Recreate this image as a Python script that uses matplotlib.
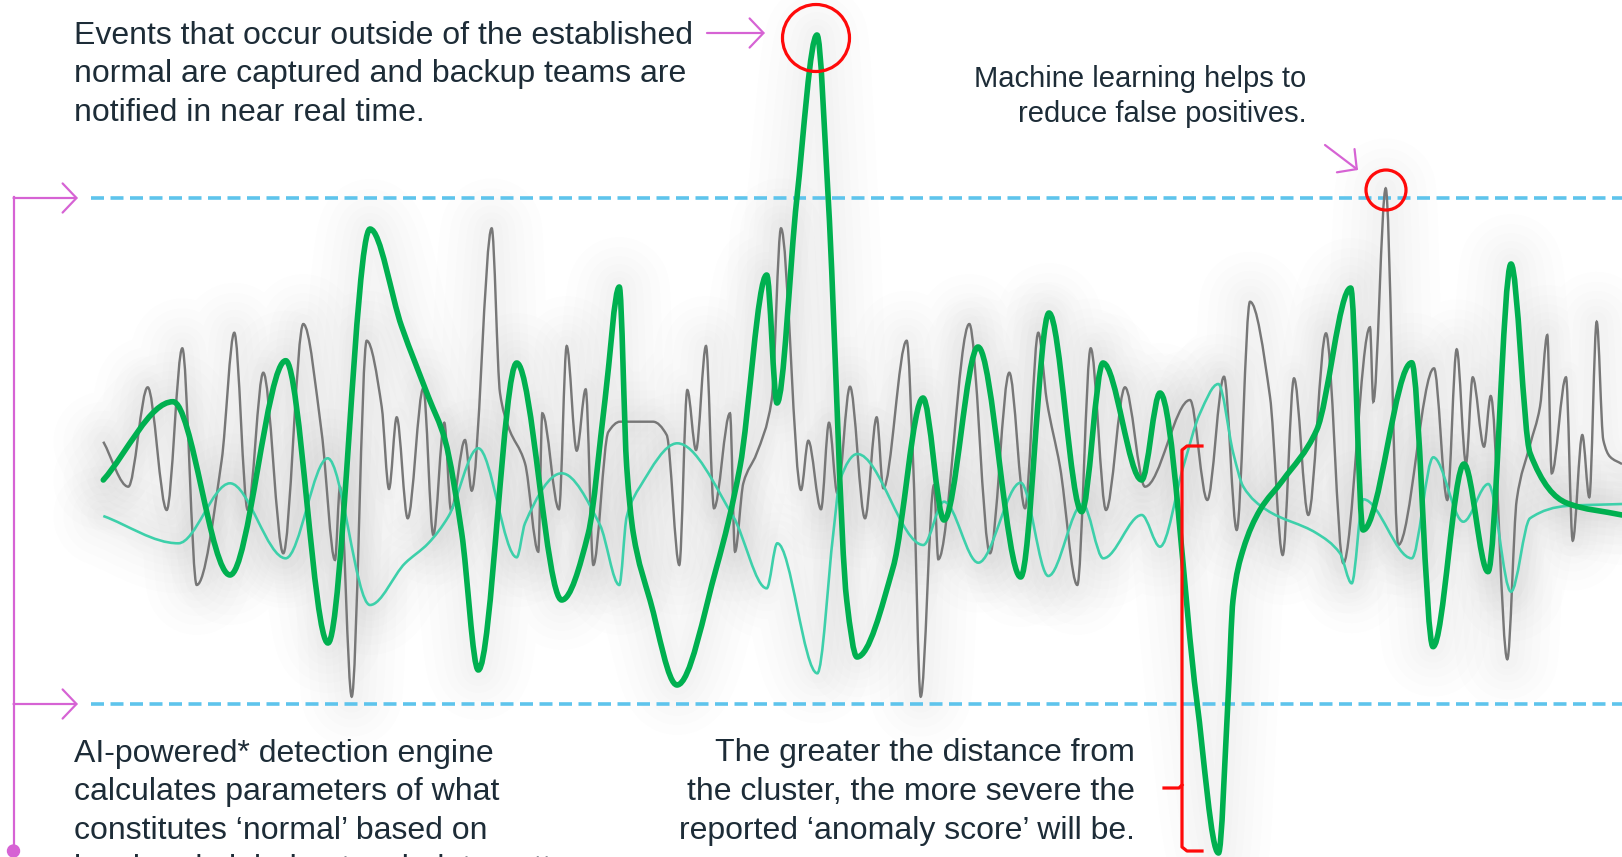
import numpy as np
import matplotlib
matplotlib.use('Agg')
import matplotlib.pyplot as plt
from matplotlib.path import Path
from matplotlib.patches import PathPatch, Circle, Ellipse

plt.rcParams['font.family'] = ['Liberation Sans', 'DejaVu Sans']

# canvas units are pixels of the 1622x857 picture, y grows downwards
W, H = 1622, 857

# extrema (and a few shoulders)
gray_x = [103.3, 128.3, 147.7, 166.7, 182.3, 196.7, 221.7, 234.3, 247.7, 263.3, 283.3, 303.3, 321.7, 335,
          340, 351.7, 366.7, 381.7, 389, 396.7, 407.7, 423.3, 433.3, 444.3, 451, 465, 471.7, 491.7, 500,
          508.3, 525, 538.3, 542.3, 559, 566.7, 576.7, 585.7, 593.3, 608.3, 620, 653, 666.7, 679.3, 687.3,
          696, 706, 714, 730, 735, 743.3, 756.7, 771.7, 781, 801, 808.3, 821, 829, 837.3, 850, 865, 876.7,
          883.3, 906.7, 913.3, 920.7, 934, 938.3, 969.3, 990, 1009.3, 1025, 1038.3, 1046.7, 1060, 1077.3,
          1090.7, 1106, 1125, 1145, 1190, 1207.3, 1224, 1236.7, 1250, 1270, 1282.7, 1294, 1308.3, 1326,
          1343.3, 1370, 1373.3, 1385.7, 1398.3, 1434, 1447.3, 1456.7, 1466, 1472.7, 1484, 1490.7, 1507.3,
          1516.7, 1530, 1540, 1547.3, 1551.7, 1566, 1572.7, 1582.3, 1589.3, 1596.7, 1603.3, 1610, 1622]
gray_y = [441.7, 486.7, 387.3, 510, 348.3, 585, 460, 332.7, 510, 372.7, 553.3, 324, 433, 560,
          487, 696.7, 340.7, 406.7, 489, 417.3, 518.3, 388.3, 535, 422.7, 510, 440, 490.7, 228.3, 393,
          426.7, 463.3, 551.7, 413.3, 509.3, 346, 450.7, 389.3, 565, 432, 421.7, 421.7, 435, 565, 390,
          450, 346, 508.3, 413.3, 551.7, 483.3, 453.3, 400, 228.3, 490, 440.7, 509.3, 422.7, 493.3, 386.7,
          518.3, 417.3, 488.3, 340.7, 466.7, 696.7, 485, 559.3, 324, 553.3, 372.7, 508.3, 332.7, 400,
          466.7, 585, 348.3, 510, 387.3, 486.7, 400, 500, 376.7, 530, 301.7, 396.7, 555, 378.3, 515,
          333.3, 563.3, 327.3, 401.7, 188.3, 545, 368.3, 500, 349.3, 463.3, 377.3, 446.7, 396, 659.3,
          500, 445, 406.7, 335, 473.3, 377.3, 540.7, 435, 497.3, 321.7, 440, 456.7, 464]

green_x = [103.3, 173, 230, 285.7, 328, 370, 401.7, 428.3, 445, 461.7, 478.3, 516.7, 561.7, 588.3, 605,
           619.3, 626.7, 633.3, 650, 677, 716.7, 740, 766.7, 777, 796.7, 817, 828.3, 846.7, 857, 893.3,
           923, 944, 978, 1020.7, 1049, 1081.7, 1103, 1141.7, 1160, 1196.7, 1218.5, 1228, 1233, 1243,
           1260, 1283, 1316.7, 1350.7, 1363, 1411.7, 1433, 1464, 1488, 1511, 1530, 1566.7, 1622]
green_y = [480, 401.7, 575, 360.7, 643, 229, 326.7, 396.7, 440, 533, 670, 363, 600, 533.3, 400,
           287, 466.7, 533.3, 600, 685, 566.7, 466.7, 275, 403, 200, 35, 200, 600, 657, 566.7,
           398, 520, 347, 577, 313, 511.7, 363, 480, 393, 700, 853, 700, 600, 550,
           510, 480, 430, 288, 530, 362.7, 646.7, 464, 571.7, 264, 453, 503, 515]

teal_x = [103.3, 178.3, 230, 285.7, 327.7, 370, 405, 428.3, 448.3, 478.3, 516.7, 525, 561.7, 600, 619.3,
          626.7, 640, 677.3, 733.3, 766.7, 777.3, 817.3, 833.3, 840, 857.3, 923.3, 944, 978.3, 1020.7,
          1048.3, 1082.7, 1103.3, 1141.7, 1160, 1183.3, 1200, 1218.3, 1233.3, 1243.3, 1266.7, 1316.7,
          1340, 1351.7, 1363.3, 1411.7, 1433.3, 1463.3, 1488.3, 1511, 1530, 1566.7, 1622]
teal_y = [516, 543.3, 483.3, 558.3, 458.3, 605, 563.3, 543.3, 516.7, 448.3, 557.3, 523.3, 473.3, 525, 585,
          516.7, 486.7, 443.3, 516.7, 588.3, 543.3, 673.3, 533.3, 480, 454, 545, 501.7, 562.7, 482.7,
          576, 504, 558.3, 515, 546.7, 466.7, 413.3, 384, 453.3, 486.7, 510, 533.3,
          553.3, 583.3, 499.3, 558.3, 457.3, 521.7, 484, 591.7, 518.3, 506, 504]

upper_limit = 198
lower_limit = 704

note_top = ["Events that occur outside of the established",
            "normal are captured and backup teams are",
            "notified in near real time."]
note_ml = ["Machine learning helps to", "reduce false positives."]
note_engine = ["AI-powered* detection engine",
               "calculates parameters of what",
               "constitutes \u2018normal\u2019 based on",
               "local and global network data patterns."]
note_score = ["The greater the distance from",
              "the cluster, the more severe the",
              "reported \u2018anomaly score\u2019 will be."]

TXT = '#1d2c37'
PINK = '#d663d4'
RED = '#ff0a0a'
BLUE = '#5ec4ec'
PX = 72 / 100  # points per pixel


def wave_path(xs, ys):
    # monotone cubic through the extrema, drawn as bezier segments
    x = np.asarray(xs, float)
    y = np.asarray(ys, float)
    h = np.diff(x)
    d = np.diff(y) / h
    m = np.zeros_like(y)
    m[0], m[-1] = d[0], d[-1]
    for k in range(1, len(x) - 1):
        if d[k - 1] * d[k] > 0:
            w1 = 2 * h[k] + h[k - 1]
            w2 = h[k] + 2 * h[k - 1]
            m[k] = (w1 + w2) / (w1 / d[k - 1] + w2 / d[k])
    verts = [(x[0], y[0])]
    codes = [Path.MOVETO]
    for k in range(len(h)):
        verts += [(x[k] + h[k] / 3, y[k] + m[k] * h[k] / 3),
                  (x[k + 1] - h[k] / 3, y[k + 1] - m[k + 1] * h[k] / 3),
                  (x[k + 1], y[k + 1])]
        codes += [Path.CURVE4] * 3
    return Path(verts, codes)


fig = plt.figure(figsize=(W / 100, H / 100), dpi=100)
ax = fig.add_axes([0, 0, 1, 1])
ax.set_xlim(0, W)
ax.set_ylim(H, 0)
ax.axis('off')

paths = {'gray': wave_path(gray_x, gray_y),
         'green': wave_path(green_x, green_y),
         'teal': wave_path(teal_x, teal_y)}

# soft grey glow behind the signals
for p in paths.values():
    for w in (100, 80, 62, 46, 32, 20):
        ax.add_patch(PathPatch(p, fill=False, lw=w * PX, ec='black', alpha=0.0065,
                               capstyle='round', joinstyle='round', zorder=1))

# threshold lines
for yv in (upper_limit, lower_limit):
    ax.plot([91, W], [yv, yv], color=BLUE, lw=3.6 * PX, ls=(0, (13 / 3.6, 6.5 / 3.6)),
            dash_capstyle='butt', zorder=2)

ax.add_patch(PathPatch(paths['gray'], fill=False, lw=2.4 * PX, ec='#777777', zorder=3))
ax.add_patch(PathPatch(paths['teal'], fill=False, lw=2.6 * PX, ec='#3dd0aa', zorder=4))
ax.add_patch(PathPatch(paths['green'], fill=False, lw=5.6 * PX, ec='#00b050',
                       joinstyle='round', capstyle='round', zorder=5))

# red markers
ax.add_patch(Ellipse((816, 38), 67, 67, fill=False, ec=RED, lw=3.2 * PX, zorder=6))
ax.add_patch(Ellipse((1386, 190), 40, 40, fill=False, ec=RED, lw=3.2 * PX, zorder=6))

brace = [(1202, 446), (1187, 446), (1182, 450), (1182, 847), (1187, 851), (1202, 851)]
ax.plot([p[0] for p in brace], [p[1] for p in brace], color=RED, lw=3.2 * PX,
        solid_joinstyle='round', zorder=6)
ax.plot([1164, 1179, 1182], [788, 788, 785], color=RED, lw=3.2 * PX, zorder=6)

# pink pointers
arrow = dict(arrowstyle='->,head_length=1.0,head_width=1.05', color=PINK, lw=2.2 * PX,
             shrinkA=0, shrinkB=0, mutation_scale=10)
ax.annotate('', xy=(765, 33), xytext=(707, 33), arrowprops=arrow, zorder=6)
ax.annotate('', xy=(1358, 170), xytext=(1325, 145), arrowprops=arrow, zorder=6)
ax.annotate('', xy=(78, upper_limit), xytext=(13.5, upper_limit), arrowprops=arrow, zorder=6)
ax.annotate('', xy=(78, lower_limit), xytext=(13.5, lower_limit), arrowprops=arrow, zorder=6)
ax.plot([13.5, 13.5], [upper_limit - 1, 851], color=PINK, lw=2.2 * PX, zorder=6)
ax.add_patch(Circle((13.5, 851), 6, color=PINK, zorder=6))

# notes
fs = 23
for i, s in enumerate(note_top):
    ax.text(74.5, 36 + 38.3 * i, s, fontsize=fs, color=TXT, va='center', ha='left', zorder=7)
for i, s in enumerate(note_ml):
    ax.text(1306.5, 79 + 35.2 * i, s, fontsize=21, color=TXT, va='center', ha='right', zorder=7)
for i, s in enumerate(note_engine):
    ax.text(74.5, 754 + 38.3 * i, s, fontsize=fs, color=TXT, va='center', ha='left', zorder=7)
for i, s in enumerate(note_score):
    ax.text(1135, 753 + 38.8 * i, s, fontsize=fs, color=TXT, va='center', ha='right', zorder=7)

fig.savefig('out.png', dpi=100, facecolor='white')
